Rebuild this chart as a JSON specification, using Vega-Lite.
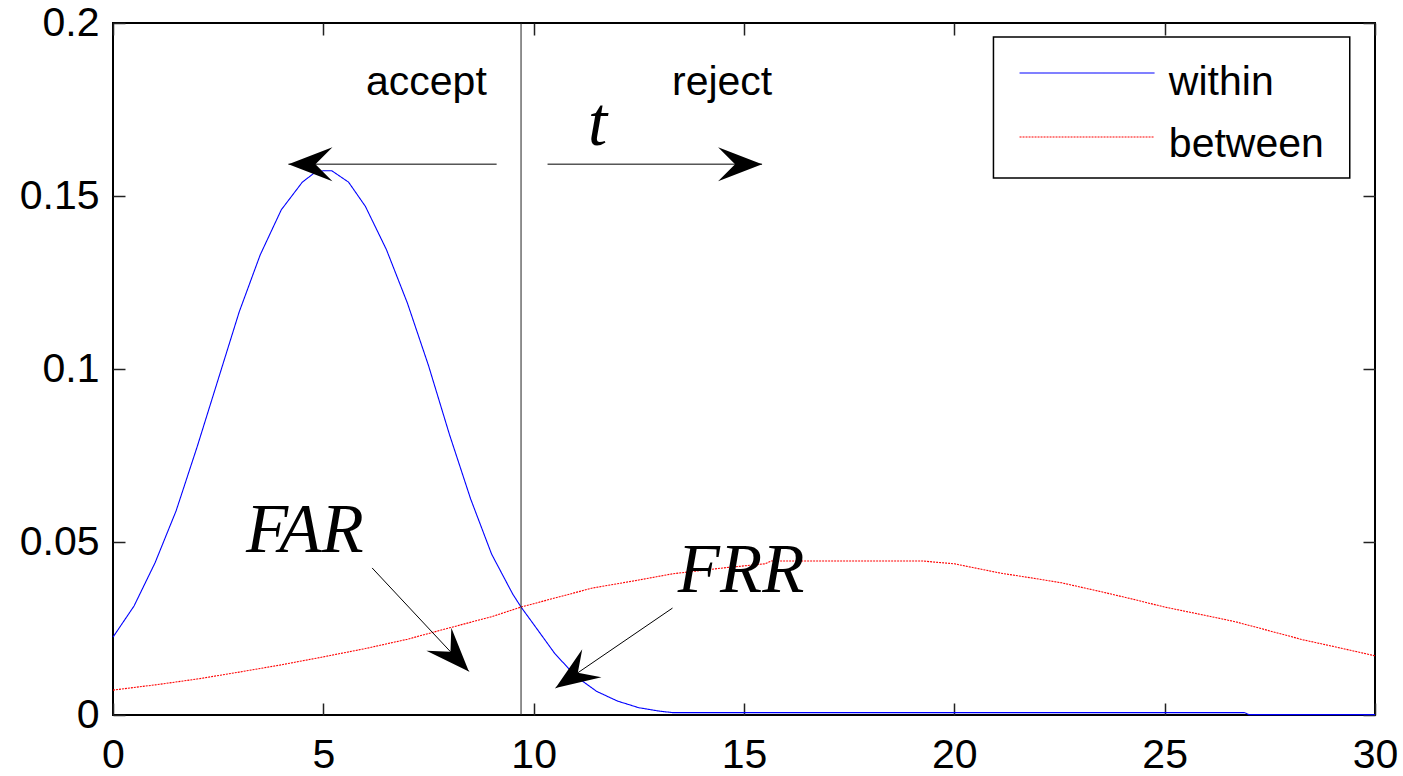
{
  "$schema": "https://vega.github.io/schema/vega-lite/v6.json",
  "width": 1262,
  "height": 692,
  "autosize": {"type": "none"},
  "padding": {"left": 113, "top": 23, "right": 28, "bottom": 61},
  "background": "white",
  "datasets": {
    "curves": [
      {"series": "within", "x": 0, "y": 0.0225},
      {"series": "within", "x": 0.5, "y": 0.0315},
      {"series": "within", "x": 1, "y": 0.044},
      {"series": "within", "x": 1.5, "y": 0.059},
      {"series": "within", "x": 2, "y": 0.0775},
      {"series": "within", "x": 2.5, "y": 0.097},
      {"series": "within", "x": 3, "y": 0.1165},
      {"series": "within", "x": 3.5, "y": 0.133},
      {"series": "within", "x": 4, "y": 0.146},
      {"series": "within", "x": 4.5, "y": 0.154},
      {"series": "within", "x": 4.8, "y": 0.1568},
      {"series": "within", "x": 5, "y": 0.1573},
      {"series": "within", "x": 5.2, "y": 0.1573},
      {"series": "within", "x": 5.6, "y": 0.154},
      {"series": "within", "x": 6, "y": 0.147},
      {"series": "within", "x": 6.5, "y": 0.1345},
      {"series": "within", "x": 7, "y": 0.119},
      {"series": "within", "x": 7.5, "y": 0.101},
      {"series": "within", "x": 8, "y": 0.081},
      {"series": "within", "x": 8.5, "y": 0.0625},
      {"series": "within", "x": 9, "y": 0.0465},
      {"series": "within", "x": 9.5, "y": 0.035},
      {"series": "within", "x": 9.7, "y": 0.0312},
      {"series": "within", "x": 10, "y": 0.0262},
      {"series": "within", "x": 10.5, "y": 0.0178},
      {"series": "within", "x": 11, "y": 0.0112},
      {"series": "within", "x": 11.5, "y": 0.0068},
      {"series": "within", "x": 12, "y": 0.004},
      {"series": "within", "x": 12.5, "y": 0.0021},
      {"series": "within", "x": 13, "y": 0.0011},
      {"series": "within", "x": 13.3, "y": 0.0007},
      {"series": "within", "x": 26.9, "y": 0.0007},
      {"series": "within", "x": 27, "y": 0.0001},
      {"series": "within", "x": 30, "y": 0.0001},
      {"series": "between", "x": 0, "y": 0.0072},
      {"series": "between", "x": 1, "y": 0.0087},
      {"series": "between", "x": 2, "y": 0.0104},
      {"series": "between", "x": 3, "y": 0.0124},
      {"series": "between", "x": 4, "y": 0.0145},
      {"series": "between", "x": 5, "y": 0.0168},
      {"series": "between", "x": 6, "y": 0.0192},
      {"series": "between", "x": 7, "y": 0.0219},
      {"series": "between", "x": 8, "y": 0.0252},
      {"series": "between", "x": 9, "y": 0.0284},
      {"series": "between", "x": 9.7, "y": 0.0312},
      {"series": "between", "x": 10.5, "y": 0.0338},
      {"series": "between", "x": 11.4, "y": 0.0367},
      {"series": "between", "x": 12.4, "y": 0.0388},
      {"series": "between", "x": 13.3, "y": 0.0408},
      {"series": "between", "x": 14.5, "y": 0.0425},
      {"series": "between", "x": 15.5, "y": 0.0437},
      {"series": "between", "x": 15.65, "y": 0.0445},
      {"series": "between", "x": 19.25, "y": 0.0445},
      {"series": "between", "x": 20, "y": 0.0437},
      {"series": "between", "x": 21.1, "y": 0.041},
      {"series": "between", "x": 22, "y": 0.0393},
      {"series": "between", "x": 22.55, "y": 0.0382},
      {"series": "between", "x": 23.5, "y": 0.0356},
      {"series": "between", "x": 24.2, "y": 0.0336},
      {"series": "between", "x": 25, "y": 0.0312},
      {"series": "between", "x": 26, "y": 0.0287},
      {"series": "between", "x": 26.7, "y": 0.0269},
      {"series": "between", "x": 27.5, "y": 0.0243},
      {"series": "between", "x": 28.3, "y": 0.0217},
      {"series": "between", "x": 29.2, "y": 0.0193},
      {"series": "between", "x": 30, "y": 0.0171}
    ],
    "arrows": [
      {"id": "accept", "x": 9.12, "y": 0.1592, "x2": 4.17, "y2": 0.1592},
      {"id": "reject", "x": 10.33, "y": 0.1592, "x2": 15.43, "y2": 0.1592},
      {"id": "FAR", "x": 6.16, "y": 0.0425, "x2": 8.46, "y2": 0.0126},
      {"id": "FRR", "x": 13.3, "y": 0.0309, "x2": 10.52, "y2": 0.0078}
    ],
    "sansText": [
      {"label": "accept", "x": 7.45, "y": 0.1792},
      {"label": "reject", "x": 14.48, "y": 0.1792}
    ],
    "serifText": [
      {"label": "t", "x": 11.52, "y": 0.1647},
      {"label": "FAR", "x": 4.56, "y": 0.0472},
      {"label": "FRR", "x": 14.93, "y": 0.03555}
    ],
    "legendBox": [
      {"x": 20.93, "x2": 29.4, "y": 0.1552, "y2": 0.19595}
    ],
    "legendRows": [
      {"series": "within", "x": 21.55, "x2": 24.76, "y": 0.18555, "tx": 25.1, "ty": 0.1792},
      {"series": "between", "x": 21.55, "x2": 24.76, "y": 0.16705, "tx": 25.1, "ty": 0.16127}
    ],
    "threshold": [{"t": 9.7}]
  },
  "layer": [
    {
      "layer": [
        {
          "data": {"name": "curves"},
          "mark": {"type": "line", "strokeWidth": 1.1},
          "encoding": {
            "x": {"field": "x", "type": "quantitative",
              "scale": {"domain": [0, 30], "nice": false, "zero": false},
              "axis": {"orient": "bottom", "values": [0, 5, 10, 15, 20, 25, 30], "title": null, "labelPadding": 32}},
            "y": {"field": "y", "type": "quantitative",
              "scale": {"domain": [0, 0.2], "nice": false},
              "axis": {"orient": "left", "values": [0, 0.05, 0.1, 0.15, 0.2], "format": "~g", "title": null, "labelPadding": 26}},
            "color": {"field": "series", "type": "nominal",
              "scale": {"domain": ["within", "between"], "range": ["#0000ff", "#ff0000"]}, "legend": null},
            "strokeDash": {"field": "series", "type": "nominal",
              "scale": {"domain": ["within", "between"], "range": [[1, 0], [2, 1]]}, "legend": null}
          }
        },
        {
          "data": {"name": "threshold"},
          "mark": {"type": "rule", "color": "#222222", "strokeWidth": 1},
          "encoding": {"x": {"field": "t", "type": "quantitative"}}
        },
        {
          "data": {"name": "arrows"},
          "mark": {"type": "rule", "color": "#000000", "strokeWidth": 1},
          "encoding": {
            "x": {"field": "x", "type": "quantitative"},
            "y": {"field": "y", "type": "quantitative"},
            "x2": {"field": "x2"},
            "y2": {"field": "y2"}
          }
        },
        {
          "data": {"name": "arrows"},
          "transform": [{"filter": "datum.id === 'accept'"}],
          "mark": {"type": "point", "shape": "M0,0 L-4.4,-1.7 L-2.7,0 L-4.4,1.7 Z", "size": 400, "filled": true, "fill": "#000000", "strokeWidth": 0, "opacity": 1, "angle": 180},
          "encoding": {"x": {"field": "x2", "type": "quantitative"}, "y": {"field": "y2", "type": "quantitative"}}
        },
        {
          "data": {"name": "arrows"},
          "transform": [{"filter": "datum.id === 'reject'"}],
          "mark": {"type": "point", "shape": "M0,0 L-4.4,-1.7 L-2.7,0 L-4.4,1.7 Z", "size": 400, "filled": true, "fill": "#000000", "strokeWidth": 0, "opacity": 1, "angle": 0},
          "encoding": {"x": {"field": "x2", "type": "quantitative"}, "y": {"field": "y2", "type": "quantitative"}}
        },
        {
          "data": {"name": "arrows"},
          "transform": [{"filter": "datum.id === 'FAR'"}],
          "mark": {"type": "point", "shape": "M0,0 L-4.4,-1.7 L-2.7,0 L-4.4,1.7 Z", "size": 400, "filled": true, "fill": "#000000", "strokeWidth": 0, "opacity": 1, "angle": 47},
          "encoding": {"x": {"field": "x2", "type": "quantitative"}, "y": {"field": "y2", "type": "quantitative"}}
        },
        {
          "data": {"name": "arrows"},
          "transform": [{"filter": "datum.id === 'FRR'"}],
          "mark": {"type": "point", "shape": "M0,0 L-4.4,-1.7 L-2.7,0 L-4.4,1.7 Z", "size": 400, "filled": true, "fill": "#000000", "strokeWidth": 0, "opacity": 1, "angle": 145.6},
          "encoding": {"x": {"field": "x2", "type": "quantitative"}, "y": {"field": "y2", "type": "quantitative"}}
        },
        {
          "data": {"name": "sansText"},
          "mark": {"type": "text", "font": "Liberation Sans", "fontSize": 41, "align": "center", "baseline": "alphabetic", "color": "#000000"},
          "encoding": {
            "x": {"field": "x", "type": "quantitative"},
            "y": {"field": "y", "type": "quantitative"},
            "text": {"field": "label"}
          }
        },
        {
          "data": {"name": "serifText"},
          "mark": {"type": "text", "font": "Liberation Serif", "fontStyle": "italic", "fontSize": 69, "align": "center", "baseline": "alphabetic", "color": "#000000"},
          "encoding": {
            "x": {"field": "x", "type": "quantitative"},
            "y": {"field": "y", "type": "quantitative"},
            "text": {"field": "label"}
          }
        },
        {
          "data": {"name": "legendBox"},
          "mark": {"type": "rect", "fill": "#ffffff", "stroke": "#000000", "strokeWidth": 1.5},
          "encoding": {
            "x": {"field": "x", "type": "quantitative"},
            "x2": {"field": "x2"},
            "y": {"field": "y", "type": "quantitative"},
            "y2": {"field": "y2"}
          }
        },
        {
          "data": {"name": "legendRows"},
          "mark": {"type": "rule", "strokeWidth": 1.1},
          "encoding": {
            "x": {"field": "x", "type": "quantitative"},
            "x2": {"field": "x2"},
            "y": {"field": "y", "type": "quantitative"},
            "color": {"field": "series", "type": "nominal", "legend": null},
            "strokeDash": {"field": "series", "type": "nominal", "legend": null}
          }
        },
        {
          "data": {"name": "legendRows"},
          "mark": {"type": "text", "font": "Liberation Sans", "fontSize": 41, "align": "left", "baseline": "alphabetic", "color": "#000000"},
          "encoding": {
            "x": {"field": "tx", "type": "quantitative"},
            "y": {"field": "ty", "type": "quantitative"},
            "text": {"field": "series"}
          }
        }
      ]
    },
    {
      "data": {"values": [{"x": 0, "y": 0}]},
      "mark": {"type": "point", "opacity": 0},
      "encoding": {
        "x": {"field": "x", "type": "quantitative",
          "scale": {"domain": [0, 30], "nice": false, "zero": false},
          "axis": {"orient": "top", "values": [0, 5, 10, 15, 20, 25, 30], "labels": false, "title": null}},
        "y": {"field": "y", "type": "quantitative",
          "scale": {"domain": [0, 0.2], "nice": false},
          "axis": {"orient": "right", "values": [0, 0.05, 0.1, 0.15, 0.2], "labels": false, "title": null}}
      }
    }
  ],
  "resolve": {"axis": {"x": "independent", "y": "independent"}},
  "config": {
    "view": {"stroke": "#000000", "strokeWidth": 2},
    "axis": {
      "domain": false,
      "grid": false,
      "tickSize": -12,
      "tickWidth": 1.5,
      "tickColor": "#222222",
      "labelFont": "Liberation Sans",
      "labelFontSize": 41,
      "labelColor": "#000000",
      "labelPadding": 14,
      "labelFlush": false,
      "labelOverlap": false
    }
  }
}
